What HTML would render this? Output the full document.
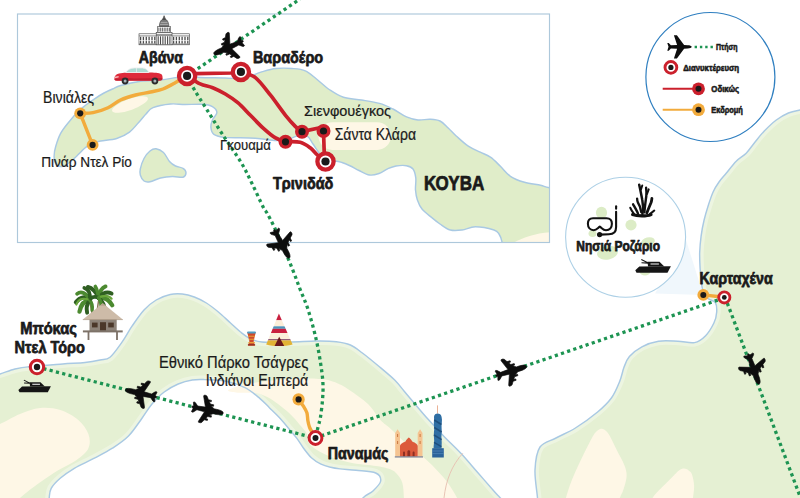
<!DOCTYPE html>
<html lang="el"><head><meta charset="utf-8"><title>Map</title>
<style>html,body{margin:0;padding:0;background:#fff}body{width:800px;height:498px;overflow:hidden}svg{display:block}text{font-family:"Liberation Sans",sans-serif}</style></head><body>
<svg width="800" height="498" viewBox="0 0 800 498">
<defs><clipPath id="inset"><rect x="17.5" y="14" width="532" height="228.5"/></clipPath><clipPath id="ros"><circle cx="625.6" cy="237.3" r="60"/></clipPath></defs>
<rect width="800" height="498" fill="#fff"/>
<clipPath id="cpP"><path d="M-10.0 376.0 C-8.3 353.3 -4.2 375.2 0.0 374.0 C4.2 372.8 10.0 370.2 15.0 369.0 C20.0 367.8 22.1 367.4 30.0 366.6 C38.0 365.8 53.5 364.7 62.7 364.0 C71.9 363.3 78.8 363.2 85.0 362.5 C91.2 361.8 95.8 360.9 100.0 360.0 C104.2 359.1 106.3 360.3 110.0 357.3 C113.7 354.3 118.3 347.4 122.0 342.2 C125.7 337.0 128.3 331.6 132.0 326.2 C135.7 320.8 140.0 314.4 144.0 310.0 C148.0 305.6 151.8 302.6 156.2 300.0 C160.6 297.4 165.8 295.5 170.2 294.5 C174.5 293.5 178.3 293.6 182.3 294.0 C186.3 294.4 190.3 295.5 194.3 297.0 C198.3 298.5 202.4 300.5 206.4 303.0 C210.4 305.5 214.4 308.7 218.4 312.0 C222.4 315.3 226.8 319.7 230.5 323.0 C234.2 326.3 237.2 329.4 240.5 332.0 C243.8 334.6 246.4 336.8 250.0 338.5 C253.6 340.2 255.3 341.4 262.0 342.0 C268.7 342.6 280.9 342.2 290.0 342.0 C299.1 341.8 308.6 341.1 316.3 341.0 C324.0 340.9 330.6 341.0 336.3 341.7 C342.0 342.4 346.0 343.1 350.4 345.0 C354.8 346.9 357.7 349.5 362.4 353.0 C367.1 356.5 373.1 361.5 378.5 366.0 C383.9 370.5 390.4 375.8 394.7 380.0 C398.9 384.2 400.8 387.2 404.0 391.0 C407.2 394.8 409.7 397.8 413.7 402.5 C417.7 407.2 422.8 413.4 427.9 419.1 C433.0 424.8 439.0 431.2 444.5 436.9 C450.0 442.6 455.6 447.6 461.1 453.5 C466.6 459.4 472.2 466.2 477.7 472.5 C483.2 478.8 490.5 487.2 494.3 491.5 C498.1 495.8 497.7 494.9 500.3 498.0 C502.9 501.1 533.4 508.0 510.0 510.0 C486.6 512.0 384.5 512.0 360.0 510.0 C335.5 508.0 360.8 501.2 363.0 498.0 C365.2 494.8 370.1 493.8 373.0 491.0 C375.9 488.2 380.2 484.0 380.7 481.0 C381.1 478.0 379.8 474.8 375.7 473.0 C371.6 471.2 361.9 471.0 356.0 470.3 C350.1 469.6 344.2 469.4 340.0 468.9 C335.8 468.4 333.9 468.1 330.7 467.3 C327.5 466.5 324.2 465.7 321.0 464.1 C317.8 462.5 314.3 460.4 311.4 457.7 C308.5 455.0 305.8 451.2 303.4 448.0 C301.0 444.8 299.3 441.6 296.9 438.4 C294.5 435.2 291.8 432.2 288.9 428.7 C286.0 425.2 282.5 421.0 279.3 417.5 C276.1 414.0 272.8 411.0 269.6 407.9 C266.4 404.8 264.1 402.0 260.0 398.6 C255.9 395.2 250.8 390.6 245.0 387.7 C239.2 384.8 231.8 382.4 225.0 381.0 C218.2 379.6 209.8 379.8 204.3 379.6 C198.9 379.4 196.7 379.3 192.3 380.0 C188.0 380.7 182.9 382.0 178.2 384.0 C173.5 386.0 168.6 388.7 164.2 392.0 C159.8 395.3 155.7 399.6 152.0 404.0 C148.3 408.4 145.9 412.9 142.0 418.2 C138.1 423.5 133.4 431.0 128.5 436.0 C123.6 441.0 118.1 444.5 112.4 448.2 C106.7 451.9 100.8 454.8 94.4 458.2 C88.1 461.6 80.0 464.9 74.3 468.3 C68.6 471.7 64.0 475.0 60.2 478.3 C56.4 481.6 53.0 485.1 51.2 488.4 C49.4 491.7 49.6 494.4 49.2 498.0 C48.8 501.6 58.9 508.0 49.0 510.0 C39.1 512.0 -0.2 532.3 -10.0 510.0 C-19.8 487.7 -11.7 398.7 -10.0 376.0Z"/></clipPath><clipPath id="cpC"><path d="M812.0 108.0 C810.0 41.3 803.9 109.2 800.0 110.0 C796.1 110.8 792.4 111.3 788.4 113.0 C784.4 114.7 780.3 117.0 776.3 120.0 C772.3 123.0 768.0 127.2 764.3 131.0 C760.6 134.8 757.3 139.3 754.3 143.0 C751.3 146.7 749.2 150.2 746.2 153.2 C743.2 156.2 739.5 157.8 736.2 161.2 C732.9 164.5 729.1 169.8 726.2 173.3 C723.3 176.8 721.2 178.9 719.0 182.0 C716.8 185.1 714.9 188.0 713.1 192.0 C711.3 196.0 709.6 201.3 708.1 206.0 C706.6 210.7 705.3 215.0 704.1 220.0 C702.9 225.0 701.8 230.8 701.1 236.2 C700.4 241.6 699.9 246.8 699.7 252.2 C699.5 257.6 699.9 263.7 700.1 268.3 C700.3 272.9 700.6 276.2 701.1 280.0 C701.6 283.8 701.9 287.9 703.0 291.0 C704.1 294.1 706.0 296.6 708.0 298.5 C710.0 300.4 713.8 300.2 715.3 302.5 C716.8 304.8 716.9 308.6 716.7 312.0 C716.5 315.4 715.8 319.1 713.9 323.0 C712.0 326.9 708.8 332.4 705.6 335.7 C702.4 339.0 699.1 341.7 694.5 342.6 C689.9 343.5 683.9 341.4 677.9 341.2 C671.9 341.0 664.5 340.3 658.5 341.2 C652.5 342.1 646.8 344.2 641.9 346.8 C637.0 349.4 632.4 353.0 629.4 356.5 C626.4 360.0 625.5 363.5 623.9 367.6 C622.3 371.8 621.8 376.3 619.7 381.4 C617.6 386.5 615.1 392.9 611.4 398.0 C607.7 403.1 603.6 407.0 597.6 412.0 C591.6 417.0 582.3 423.7 575.4 428.0 C568.5 432.3 561.9 434.8 556.0 438.0 C550.1 441.2 543.5 441.7 540.0 447.0 C536.5 452.3 535.4 461.5 535.0 470.0 C534.6 478.5 537.0 491.3 537.5 498.0 C538.0 504.7 492.2 508.0 538.0 510.0 C583.8 512.0 766.3 577.0 812.0 510.0 C857.7 443.0 814.0 174.7 812.0 108.0Z"/></clipPath>
<path d="M-10.0 376.0 C-8.3 353.3 -4.2 375.2 0.0 374.0 C4.2 372.8 10.0 370.2 15.0 369.0 C20.0 367.8 22.1 367.4 30.0 366.6 C38.0 365.8 53.5 364.7 62.7 364.0 C71.9 363.3 78.8 363.2 85.0 362.5 C91.2 361.8 95.8 360.9 100.0 360.0 C104.2 359.1 106.3 360.3 110.0 357.3 C113.7 354.3 118.3 347.4 122.0 342.2 C125.7 337.0 128.3 331.6 132.0 326.2 C135.7 320.8 140.0 314.4 144.0 310.0 C148.0 305.6 151.8 302.6 156.2 300.0 C160.6 297.4 165.8 295.5 170.2 294.5 C174.5 293.5 178.3 293.6 182.3 294.0 C186.3 294.4 190.3 295.5 194.3 297.0 C198.3 298.5 202.4 300.5 206.4 303.0 C210.4 305.5 214.4 308.7 218.4 312.0 C222.4 315.3 226.8 319.7 230.5 323.0 C234.2 326.3 237.2 329.4 240.5 332.0 C243.8 334.6 246.4 336.8 250.0 338.5 C253.6 340.2 255.3 341.4 262.0 342.0 C268.7 342.6 280.9 342.2 290.0 342.0 C299.1 341.8 308.6 341.1 316.3 341.0 C324.0 340.9 330.6 341.0 336.3 341.7 C342.0 342.4 346.0 343.1 350.4 345.0 C354.8 346.9 357.7 349.5 362.4 353.0 C367.1 356.5 373.1 361.5 378.5 366.0 C383.9 370.5 390.4 375.8 394.7 380.0 C398.9 384.2 400.8 387.2 404.0 391.0 C407.2 394.8 409.7 397.8 413.7 402.5 C417.7 407.2 422.8 413.4 427.9 419.1 C433.0 424.8 439.0 431.2 444.5 436.9 C450.0 442.6 455.6 447.6 461.1 453.5 C466.6 459.4 472.2 466.2 477.7 472.5 C483.2 478.8 490.5 487.2 494.3 491.5 C498.1 495.8 497.7 494.9 500.3 498.0 C502.9 501.1 533.4 508.0 510.0 510.0 C486.6 512.0 384.5 512.0 360.0 510.0 C335.5 508.0 360.8 501.2 363.0 498.0 C365.2 494.8 370.1 493.8 373.0 491.0 C375.9 488.2 380.2 484.0 380.7 481.0 C381.1 478.0 379.8 474.8 375.7 473.0 C371.6 471.2 361.9 471.0 356.0 470.3 C350.1 469.6 344.2 469.4 340.0 468.9 C335.8 468.4 333.9 468.1 330.7 467.3 C327.5 466.5 324.2 465.7 321.0 464.1 C317.8 462.5 314.3 460.4 311.4 457.7 C308.5 455.0 305.8 451.2 303.4 448.0 C301.0 444.8 299.3 441.6 296.9 438.4 C294.5 435.2 291.8 432.2 288.9 428.7 C286.0 425.2 282.5 421.0 279.3 417.5 C276.1 414.0 272.8 411.0 269.6 407.9 C266.4 404.8 264.1 402.0 260.0 398.6 C255.9 395.2 250.8 390.6 245.0 387.7 C239.2 384.8 231.8 382.4 225.0 381.0 C218.2 379.6 209.8 379.8 204.3 379.6 C198.9 379.4 196.7 379.3 192.3 380.0 C188.0 380.7 182.9 382.0 178.2 384.0 C173.5 386.0 168.6 388.7 164.2 392.0 C159.8 395.3 155.7 399.6 152.0 404.0 C148.3 408.4 145.9 412.9 142.0 418.2 C138.1 423.5 133.4 431.0 128.5 436.0 C123.6 441.0 118.1 444.5 112.4 448.2 C106.7 451.9 100.8 454.8 94.4 458.2 C88.1 461.6 80.0 464.9 74.3 468.3 C68.6 471.7 64.0 475.0 60.2 478.3 C56.4 481.6 53.0 485.1 51.2 488.4 C49.4 491.7 49.6 494.4 49.2 498.0 C48.8 501.6 58.9 508.0 49.0 510.0 C39.1 512.0 -0.2 532.3 -10.0 510.0 C-19.8 487.7 -11.7 398.7 -10.0 376.0Z" fill="#e5f0d3"/>
<path d="M812.0 108.0 C810.0 41.3 803.9 109.2 800.0 110.0 C796.1 110.8 792.4 111.3 788.4 113.0 C784.4 114.7 780.3 117.0 776.3 120.0 C772.3 123.0 768.0 127.2 764.3 131.0 C760.6 134.8 757.3 139.3 754.3 143.0 C751.3 146.7 749.2 150.2 746.2 153.2 C743.2 156.2 739.5 157.8 736.2 161.2 C732.9 164.5 729.1 169.8 726.2 173.3 C723.3 176.8 721.2 178.9 719.0 182.0 C716.8 185.1 714.9 188.0 713.1 192.0 C711.3 196.0 709.6 201.3 708.1 206.0 C706.6 210.7 705.3 215.0 704.1 220.0 C702.9 225.0 701.8 230.8 701.1 236.2 C700.4 241.6 699.9 246.8 699.7 252.2 C699.5 257.6 699.9 263.7 700.1 268.3 C700.3 272.9 700.6 276.2 701.1 280.0 C701.6 283.8 701.9 287.9 703.0 291.0 C704.1 294.1 706.0 296.6 708.0 298.5 C710.0 300.4 713.8 300.2 715.3 302.5 C716.8 304.8 716.9 308.6 716.7 312.0 C716.5 315.4 715.8 319.1 713.9 323.0 C712.0 326.9 708.8 332.4 705.6 335.7 C702.4 339.0 699.1 341.7 694.5 342.6 C689.9 343.5 683.9 341.4 677.9 341.2 C671.9 341.0 664.5 340.3 658.5 341.2 C652.5 342.1 646.8 344.2 641.9 346.8 C637.0 349.4 632.4 353.0 629.4 356.5 C626.4 360.0 625.5 363.5 623.9 367.6 C622.3 371.8 621.8 376.3 619.7 381.4 C617.6 386.5 615.1 392.9 611.4 398.0 C607.7 403.1 603.6 407.0 597.6 412.0 C591.6 417.0 582.3 423.7 575.4 428.0 C568.5 432.3 561.9 434.8 556.0 438.0 C550.1 441.2 543.5 441.7 540.0 447.0 C536.5 452.3 535.4 461.5 535.0 470.0 C534.6 478.5 537.0 491.3 537.5 498.0 C538.0 504.7 492.2 508.0 538.0 510.0 C583.8 512.0 766.3 577.0 812.0 510.0 C857.7 443.0 814.0 174.7 812.0 108.0Z" fill="#e5f0d3"/>
<path d="M-10.0 376.0 C-8.3 353.3 -4.2 375.2 0.0 374.0 C4.2 372.8 10.0 370.2 15.0 369.0 C20.0 367.8 22.1 367.4 30.0 366.6 C38.0 365.8 53.5 364.7 62.7 364.0 C71.9 363.3 78.8 363.2 85.0 362.5 C91.2 361.8 95.8 360.9 100.0 360.0 C104.2 359.1 106.3 360.3 110.0 357.3 C113.7 354.3 118.3 347.4 122.0 342.2 C125.7 337.0 128.3 331.6 132.0 326.2 C135.7 320.8 140.0 314.4 144.0 310.0 C148.0 305.6 151.8 302.6 156.2 300.0 C160.6 297.4 165.8 295.5 170.2 294.5 C174.5 293.5 178.3 293.6 182.3 294.0 C186.3 294.4 190.3 295.5 194.3 297.0 C198.3 298.5 202.4 300.5 206.4 303.0 C210.4 305.5 214.4 308.7 218.4 312.0 C222.4 315.3 226.8 319.7 230.5 323.0 C234.2 326.3 237.2 329.4 240.5 332.0 C243.8 334.6 246.4 336.8 250.0 338.5 C253.6 340.2 255.3 341.4 262.0 342.0 C268.7 342.6 280.9 342.2 290.0 342.0 C299.1 341.8 308.6 341.1 316.3 341.0 C324.0 340.9 330.6 341.0 336.3 341.7 C342.0 342.4 346.0 343.1 350.4 345.0 C354.8 346.9 357.7 349.5 362.4 353.0 C367.1 356.5 373.1 361.5 378.5 366.0 C383.9 370.5 390.4 375.8 394.7 380.0 C398.9 384.2 400.8 387.2 404.0 391.0 C407.2 394.8 409.7 397.8 413.7 402.5 C417.7 407.2 422.8 413.4 427.9 419.1 C433.0 424.8 439.0 431.2 444.5 436.9 C450.0 442.6 455.6 447.6 461.1 453.5 C466.6 459.4 472.2 466.2 477.7 472.5 C483.2 478.8 490.5 487.2 494.3 491.5 C498.1 495.8 497.7 494.9 500.3 498.0 C502.9 501.1 533.4 508.0 510.0 510.0 C486.6 512.0 384.5 512.0 360.0 510.0 C335.5 508.0 360.8 501.2 363.0 498.0 C365.2 494.8 370.1 493.8 373.0 491.0 C375.9 488.2 380.2 484.0 380.7 481.0 C381.1 478.0 379.8 474.8 375.7 473.0 C371.6 471.2 361.9 471.0 356.0 470.3 C350.1 469.6 344.2 469.4 340.0 468.9 C335.8 468.4 333.9 468.1 330.7 467.3 C327.5 466.5 324.2 465.7 321.0 464.1 C317.8 462.5 314.3 460.4 311.4 457.7 C308.5 455.0 305.8 451.2 303.4 448.0 C301.0 444.8 299.3 441.6 296.9 438.4 C294.5 435.2 291.8 432.2 288.9 428.7 C286.0 425.2 282.5 421.0 279.3 417.5 C276.1 414.0 272.8 411.0 269.6 407.9 C266.4 404.8 264.1 402.0 260.0 398.6 C255.9 395.2 250.8 390.6 245.0 387.7 C239.2 384.8 231.8 382.4 225.0 381.0 C218.2 379.6 209.8 379.8 204.3 379.6 C198.9 379.4 196.7 379.3 192.3 380.0 C188.0 380.7 182.9 382.0 178.2 384.0 C173.5 386.0 168.6 388.7 164.2 392.0 C159.8 395.3 155.7 399.6 152.0 404.0 C148.3 408.4 145.9 412.9 142.0 418.2 C138.1 423.5 133.4 431.0 128.5 436.0 C123.6 441.0 118.1 444.5 112.4 448.2 C106.7 451.9 100.8 454.8 94.4 458.2 C88.1 461.6 80.0 464.9 74.3 468.3 C68.6 471.7 64.0 475.0 60.2 478.3 C56.4 481.6 53.0 485.1 51.2 488.4 C49.4 491.7 49.6 494.4 49.2 498.0 C48.8 501.6 58.9 508.0 49.0 510.0 C39.1 512.0 -0.2 532.3 -10.0 510.0 C-19.8 487.7 -11.7 398.7 -10.0 376.0Z" fill="none" stroke="#fff" stroke-opacity="0.32" stroke-width="8" clip-path="url(#cpP)"/>
<path d="M812.0 108.0 C810.0 41.3 803.9 109.2 800.0 110.0 C796.1 110.8 792.4 111.3 788.4 113.0 C784.4 114.7 780.3 117.0 776.3 120.0 C772.3 123.0 768.0 127.2 764.3 131.0 C760.6 134.8 757.3 139.3 754.3 143.0 C751.3 146.7 749.2 150.2 746.2 153.2 C743.2 156.2 739.5 157.8 736.2 161.2 C732.9 164.5 729.1 169.8 726.2 173.3 C723.3 176.8 721.2 178.9 719.0 182.0 C716.8 185.1 714.9 188.0 713.1 192.0 C711.3 196.0 709.6 201.3 708.1 206.0 C706.6 210.7 705.3 215.0 704.1 220.0 C702.9 225.0 701.8 230.8 701.1 236.2 C700.4 241.6 699.9 246.8 699.7 252.2 C699.5 257.6 699.9 263.7 700.1 268.3 C700.3 272.9 700.6 276.2 701.1 280.0 C701.6 283.8 701.9 287.9 703.0 291.0 C704.1 294.1 706.0 296.6 708.0 298.5 C710.0 300.4 713.8 300.2 715.3 302.5 C716.8 304.8 716.9 308.6 716.7 312.0 C716.5 315.4 715.8 319.1 713.9 323.0 C712.0 326.9 708.8 332.4 705.6 335.7 C702.4 339.0 699.1 341.7 694.5 342.6 C689.9 343.5 683.9 341.4 677.9 341.2 C671.9 341.0 664.5 340.3 658.5 341.2 C652.5 342.1 646.8 344.2 641.9 346.8 C637.0 349.4 632.4 353.0 629.4 356.5 C626.4 360.0 625.5 363.5 623.9 367.6 C622.3 371.8 621.8 376.3 619.7 381.4 C617.6 386.5 615.1 392.9 611.4 398.0 C607.7 403.1 603.6 407.0 597.6 412.0 C591.6 417.0 582.3 423.7 575.4 428.0 C568.5 432.3 561.9 434.8 556.0 438.0 C550.1 441.2 543.5 441.7 540.0 447.0 C536.5 452.3 535.4 461.5 535.0 470.0 C534.6 478.5 537.0 491.3 537.5 498.0 C538.0 504.7 492.2 508.0 538.0 510.0 C583.8 512.0 766.3 577.0 812.0 510.0 C857.7 443.0 814.0 174.7 812.0 108.0Z" fill="none" stroke="#fff" stroke-opacity="0.32" stroke-width="8" clip-path="url(#cpC)"/>
<path d="M-10.0 426.0 C-8.3 411.7 -5.0 426.0 0.0 424.0 C5.0 422.0 13.3 416.7 20.0 414.0 C26.7 411.3 33.5 408.7 40.2 408.0 C46.9 407.3 53.9 408.0 60.2 410.0 C66.5 412.0 73.6 416.0 78.3 420.0 C83.0 424.0 86.7 429.3 88.4 434.0 C90.1 438.7 90.4 443.8 88.4 448.2 C86.4 452.6 81.3 456.5 76.3 460.2 C71.3 463.9 64.2 466.6 58.2 470.3 C52.2 474.0 46.6 477.7 40.2 482.3 C33.8 486.9 25.0 493.4 20.0 498.0 C15.0 502.6 15.0 508.0 10.0 510.0 C5.0 512.0 -6.7 524.0 -10.0 510.0 C-13.3 496.0 -11.7 440.3 -10.0 426.0Z" fill="#fef7e6"/>
<path d="M228.0 390.5 C228.3 389.4 234.7 387.3 238.0 386.2 C241.3 385.1 244.2 384.5 248.0 383.8 C251.8 383.1 256.5 382.4 261.0 381.8 C265.5 381.2 270.4 380.7 275.2 380.2 C280.0 379.7 285.5 379.3 290.0 379.0 C294.5 378.7 296.6 378.3 302.3 378.4 C308.0 378.4 318.0 378.4 324.0 379.3 C330.0 380.2 334.1 381.9 338.4 383.8 C342.7 385.7 345.1 387.1 350.0 390.5 C354.9 393.9 362.9 399.1 368.0 404.0 C373.1 408.9 376.5 415.8 380.4 420.0 C384.3 424.2 386.4 424.9 391.3 429.4 C396.2 433.9 404.2 442.0 410.0 447.0 C415.8 452.0 421.1 455.1 425.8 459.2 C430.5 463.3 434.7 467.8 438.3 471.7 C441.9 475.6 444.6 478.3 447.7 482.7 C450.8 487.1 454.7 493.4 457.1 498.0 C459.5 502.6 470.9 508.0 462.0 510.0 C453.1 512.0 413.7 512.0 404.0 510.0 C394.3 508.0 404.2 502.6 403.9 498.0 C403.6 493.4 403.6 486.9 402.3 482.7 C401.0 478.5 398.4 475.4 396.0 473.0 C393.6 470.6 391.3 469.8 388.0 468.6 C384.7 467.4 382.0 466.9 376.0 466.0 C370.0 465.1 359.3 464.4 352.0 463.0 C344.7 461.6 338.0 459.7 332.0 457.5 C326.0 455.3 320.1 452.1 316.2 449.6 C312.3 447.1 310.2 445.2 308.6 442.5 C307.0 439.8 307.7 436.2 306.6 433.6 C305.5 431.0 304.2 430.1 301.8 427.1 C299.4 424.2 295.6 419.4 292.1 415.9 C288.6 412.4 284.6 409.1 280.9 406.2 C277.1 403.2 273.4 400.3 269.6 398.2 C265.8 396.1 261.9 394.3 258.0 393.4 C254.1 392.5 249.7 392.9 246.0 392.8 C242.3 392.7 239.0 393.0 236.0 392.6 C233.0 392.2 227.7 391.6 228.0 390.5Z" fill="#fef7e6"/>
<path d="M563.0 510.0 C554.5 508.0 564.5 502.8 565.9 498.0 C567.3 493.2 569.1 487.2 571.5 481.0 C573.9 474.8 577.1 467.9 580.5 460.8 C583.9 453.7 589.0 443.3 591.8 438.3 C594.5 433.3 595.3 432.6 597.0 431.0 C598.7 429.4 600.4 428.8 601.9 428.8 C603.4 428.8 604.7 429.8 606.0 431.0 C607.3 432.2 608.0 432.9 609.8 436.0 C611.5 439.1 614.1 444.6 616.5 449.5 C618.9 454.4 622.7 460.8 624.4 465.3 C626.1 469.8 626.8 472.4 626.6 476.5 C626.4 480.6 624.4 486.4 623.3 490.0 C622.2 493.6 620.9 494.7 619.9 498.0 C618.9 501.3 626.5 508.0 617.0 510.0 C607.5 512.0 571.5 512.0 563.0 510.0Z" fill="#fef7e6"/>
<path d="M648.0 510.0 C641.4 508.0 650.2 501.7 652.5 498.0 C654.8 494.3 658.1 491.4 661.5 487.8 C664.9 484.2 669.9 479.4 672.8 476.5 C675.7 473.6 677.1 471.8 679.0 470.5 C680.9 469.2 682.4 468.6 684.0 468.6 C685.6 468.6 687.3 469.4 688.6 470.4 C689.9 471.3 691.0 471.8 691.9 474.3 C692.8 476.8 693.9 481.6 694.1 485.5 C694.3 489.4 693.4 493.9 693.0 498.0 C692.6 502.1 699.5 508.0 692.0 510.0 C684.5 512.0 654.6 512.0 648.0 510.0Z" fill="#fef7e6"/>
<path d="M-10.0 376.0 C-8.3 353.3 -4.2 375.2 0.0 374.0 C4.2 372.8 10.0 370.2 15.0 369.0 C20.0 367.8 22.1 367.4 30.0 366.6 C38.0 365.8 53.5 364.7 62.7 364.0 C71.9 363.3 78.8 363.2 85.0 362.5 C91.2 361.8 95.8 360.9 100.0 360.0 C104.2 359.1 106.3 360.3 110.0 357.3 C113.7 354.3 118.3 347.4 122.0 342.2 C125.7 337.0 128.3 331.6 132.0 326.2 C135.7 320.8 140.0 314.4 144.0 310.0 C148.0 305.6 151.8 302.6 156.2 300.0 C160.6 297.4 165.8 295.5 170.2 294.5 C174.5 293.5 178.3 293.6 182.3 294.0 C186.3 294.4 190.3 295.5 194.3 297.0 C198.3 298.5 202.4 300.5 206.4 303.0 C210.4 305.5 214.4 308.7 218.4 312.0 C222.4 315.3 226.8 319.7 230.5 323.0 C234.2 326.3 237.2 329.4 240.5 332.0 C243.8 334.6 246.4 336.8 250.0 338.5 C253.6 340.2 255.3 341.4 262.0 342.0 C268.7 342.6 280.9 342.2 290.0 342.0 C299.1 341.8 308.6 341.1 316.3 341.0 C324.0 340.9 330.6 341.0 336.3 341.7 C342.0 342.4 346.0 343.1 350.4 345.0 C354.8 346.9 357.7 349.5 362.4 353.0 C367.1 356.5 373.1 361.5 378.5 366.0 C383.9 370.5 390.4 375.8 394.7 380.0 C398.9 384.2 400.8 387.2 404.0 391.0 C407.2 394.8 409.7 397.8 413.7 402.5 C417.7 407.2 422.8 413.4 427.9 419.1 C433.0 424.8 439.0 431.2 444.5 436.9 C450.0 442.6 455.6 447.6 461.1 453.5 C466.6 459.4 472.2 466.2 477.7 472.5 C483.2 478.8 490.5 487.2 494.3 491.5 C498.1 495.8 497.7 494.9 500.3 498.0 C502.9 501.1 533.4 508.0 510.0 510.0 C486.6 512.0 384.5 512.0 360.0 510.0 C335.5 508.0 360.8 501.2 363.0 498.0 C365.2 494.8 370.1 493.8 373.0 491.0 C375.9 488.2 380.2 484.0 380.7 481.0 C381.1 478.0 379.8 474.8 375.7 473.0 C371.6 471.2 361.9 471.0 356.0 470.3 C350.1 469.6 344.2 469.4 340.0 468.9 C335.8 468.4 333.9 468.1 330.7 467.3 C327.5 466.5 324.2 465.7 321.0 464.1 C317.8 462.5 314.3 460.4 311.4 457.7 C308.5 455.0 305.8 451.2 303.4 448.0 C301.0 444.8 299.3 441.6 296.9 438.4 C294.5 435.2 291.8 432.2 288.9 428.7 C286.0 425.2 282.5 421.0 279.3 417.5 C276.1 414.0 272.8 411.0 269.6 407.9 C266.4 404.8 264.1 402.0 260.0 398.6 C255.9 395.2 250.8 390.6 245.0 387.7 C239.2 384.8 231.8 382.4 225.0 381.0 C218.2 379.6 209.8 379.8 204.3 379.6 C198.9 379.4 196.7 379.3 192.3 380.0 C188.0 380.7 182.9 382.0 178.2 384.0 C173.5 386.0 168.6 388.7 164.2 392.0 C159.8 395.3 155.7 399.6 152.0 404.0 C148.3 408.4 145.9 412.9 142.0 418.2 C138.1 423.5 133.4 431.0 128.5 436.0 C123.6 441.0 118.1 444.5 112.4 448.2 C106.7 451.9 100.8 454.8 94.4 458.2 C88.1 461.6 80.0 464.9 74.3 468.3 C68.6 471.7 64.0 475.0 60.2 478.3 C56.4 481.6 53.0 485.1 51.2 488.4 C49.4 491.7 49.6 494.4 49.2 498.0 C48.8 501.6 58.9 508.0 49.0 510.0 C39.1 512.0 -0.2 532.3 -10.0 510.0 C-19.8 487.7 -11.7 398.7 -10.0 376.0Z" fill="none" stroke="#a9c9e3" stroke-width="1.45"/>
<path d="M812.0 108.0 C810.0 41.3 803.9 109.2 800.0 110.0 C796.1 110.8 792.4 111.3 788.4 113.0 C784.4 114.7 780.3 117.0 776.3 120.0 C772.3 123.0 768.0 127.2 764.3 131.0 C760.6 134.8 757.3 139.3 754.3 143.0 C751.3 146.7 749.2 150.2 746.2 153.2 C743.2 156.2 739.5 157.8 736.2 161.2 C732.9 164.5 729.1 169.8 726.2 173.3 C723.3 176.8 721.2 178.9 719.0 182.0 C716.8 185.1 714.9 188.0 713.1 192.0 C711.3 196.0 709.6 201.3 708.1 206.0 C706.6 210.7 705.3 215.0 704.1 220.0 C702.9 225.0 701.8 230.8 701.1 236.2 C700.4 241.6 699.9 246.8 699.7 252.2 C699.5 257.6 699.9 263.7 700.1 268.3 C700.3 272.9 700.6 276.2 701.1 280.0 C701.6 283.8 701.9 287.9 703.0 291.0 C704.1 294.1 706.0 296.6 708.0 298.5 C710.0 300.4 713.8 300.2 715.3 302.5 C716.8 304.8 716.9 308.6 716.7 312.0 C716.5 315.4 715.8 319.1 713.9 323.0 C712.0 326.9 708.8 332.4 705.6 335.7 C702.4 339.0 699.1 341.7 694.5 342.6 C689.9 343.5 683.9 341.4 677.9 341.2 C671.9 341.0 664.5 340.3 658.5 341.2 C652.5 342.1 646.8 344.2 641.9 346.8 C637.0 349.4 632.4 353.0 629.4 356.5 C626.4 360.0 625.5 363.5 623.9 367.6 C622.3 371.8 621.8 376.3 619.7 381.4 C617.6 386.5 615.1 392.9 611.4 398.0 C607.7 403.1 603.6 407.0 597.6 412.0 C591.6 417.0 582.3 423.7 575.4 428.0 C568.5 432.3 561.9 434.8 556.0 438.0 C550.1 441.2 543.5 441.7 540.0 447.0 C536.5 452.3 535.4 461.5 535.0 470.0 C534.6 478.5 537.0 491.3 537.5 498.0 C538.0 504.7 492.2 508.0 538.0 510.0 C583.8 512.0 766.3 577.0 812.0 510.0 C857.7 443.0 814.0 174.7 812.0 108.0Z" fill="none" stroke="#a9c9e3" stroke-width="1.45"/>
<path d="M462.8 453.3 C452 465 446 480 444 498" fill="none" stroke="#e8c4b4" stroke-width="1"/>
<rect x="17.5" y="14" width="532" height="228.5" fill="#fff"/>
<g clip-path="url(#inset)">
<path d="M54.1 156.2 C54.1 153.3 54.6 150.2 55.7 146.5 C56.8 142.8 58.4 137.7 60.5 133.7 C62.6 129.7 65.5 126.2 68.5 122.5 C71.5 118.8 75.2 114.2 78.2 111.2 C81.2 108.2 83.5 106.9 86.2 104.8 C88.9 102.7 91.6 100.8 94.6 98.8 C97.6 96.8 101.0 94.6 104.0 93.0 C107.0 91.4 109.7 90.2 112.5 89.0 C115.3 87.8 116.1 86.8 120.8 85.5 C125.5 84.2 133.9 82.2 140.5 81.3 C147.1 80.4 154.7 80.6 160.6 80.0 C166.5 79.4 171.3 78.3 175.7 77.6 C180.1 76.9 182.9 76.0 187.0 76.0 C191.1 76.0 193.7 77.2 200.0 77.5 C206.3 77.8 217.8 77.8 225.0 78.0 C232.2 78.2 238.6 79.0 243.0 78.6 C247.4 78.2 248.1 77.0 251.3 75.8 C254.6 74.6 258.4 72.8 262.5 71.6 C266.6 70.4 271.1 69.0 276.0 68.5 C280.9 68.0 286.9 68.1 291.8 68.5 C296.7 68.9 301.2 69.0 305.3 70.8 C309.4 72.5 312.4 75.8 316.5 79.0 C320.6 82.2 325.5 87.0 330.0 90.0 C334.5 93.0 338.2 95.5 343.5 97.2 C348.8 98.9 355.5 99.0 361.5 100.0 C367.5 101.0 374.2 101.9 379.5 103.4 C384.8 104.9 388.5 106.8 393.0 109.0 C397.5 111.2 402.3 115.1 406.5 116.9 C410.7 118.7 414.1 119.6 418.0 120.0 C421.9 120.4 426.3 119.0 430.0 119.2 C433.7 119.4 437.0 119.5 440.0 121.0 C443.0 122.5 445.5 125.5 448.2 128.0 C450.9 130.5 452.8 133.0 456.2 136.0 C459.6 139.0 464.3 143.5 468.3 146.2 C472.3 148.9 476.6 150.4 480.3 152.2 C484.0 154.0 487.0 154.8 490.4 157.2 C493.8 159.5 497.1 163.1 500.4 166.3 C503.7 169.5 506.4 173.6 510.4 176.3 C514.4 179.0 519.5 180.8 524.5 182.3 C529.5 183.8 536.5 184.4 540.6 185.3 C544.8 186.2 543.7 186.7 549.4 187.8 C555.1 188.9 569.9 180.0 575.0 192.0 C580.1 204.0 592.0 249.3 580.0 260.0 C568.0 270.7 516.0 259.0 503.0 256.0 C490.0 253.0 502.7 245.5 502.0 241.8 C501.3 238.1 500.3 236.0 499.0 234.0 C497.7 232.0 497.9 231.2 494.0 230.0 C490.1 228.8 480.7 226.8 475.4 226.8 C470.1 226.8 466.2 229.5 462.0 230.0 C457.8 230.5 454.0 231.0 450.3 230.0 C446.6 229.0 443.1 226.1 440.0 224.0 C436.9 221.9 434.5 219.9 431.5 217.4 C428.5 214.9 424.4 211.9 422.0 209.0 C419.6 206.1 418.5 203.2 417.4 200.0 C416.3 196.8 415.8 193.6 415.5 190.0 C415.2 186.4 416.2 181.7 415.8 178.2 C415.4 174.7 414.6 171.1 413.0 169.0 C411.4 166.9 409.2 166.2 406.4 165.7 C403.6 165.2 399.1 165.5 396.0 166.0 C392.9 166.5 390.4 167.6 387.6 168.8 C384.8 170.1 382.0 172.5 379.0 173.5 C376.0 174.5 372.8 175.5 369.5 175.0 C366.2 174.5 362.2 172.0 359.0 170.5 C355.8 169.0 353.2 167.3 350.4 166.0 C347.6 164.7 344.5 163.3 342.0 162.5 C339.5 161.7 338.0 161.2 335.3 161.0 C332.6 160.8 328.7 162.4 326.0 161.0 C323.3 159.6 321.2 155.6 319.0 152.8 C316.8 150.0 314.9 146.7 313.0 144.0 C311.1 141.3 309.9 138.0 307.7 136.5 C305.5 135.0 302.9 134.7 300.0 135.0 C297.1 135.3 293.9 137.6 290.0 138.5 C286.1 139.4 282.2 140.6 276.4 140.5 C270.6 140.4 263.9 138.7 255.3 138.2 C246.7 137.7 231.9 138.0 225.0 137.4 C218.1 136.8 216.2 136.0 213.9 134.4 C211.6 132.8 211.2 130.1 210.9 127.7 C210.7 125.3 211.4 122.5 212.4 120.0 C213.4 117.5 216.9 114.8 216.9 112.6 C216.9 110.4 214.8 108.0 212.4 106.6 C210.0 105.2 207.2 104.6 202.6 104.3 C198.0 104.0 190.3 104.5 185.0 104.5 C179.7 104.5 175.9 103.5 170.6 104.0 C165.3 104.5 157.1 106.0 153.0 107.7 C148.9 109.4 148.2 111.8 146.0 114.0 C143.8 116.2 142.8 117.9 140.0 120.9 C137.2 123.9 133.4 129.2 129.5 132.1 C125.6 135.0 121.5 137.0 116.7 138.5 C111.9 140.0 104.7 140.2 100.6 141.0 C96.5 141.8 94.7 142.3 92.0 143.5 C89.3 144.7 86.9 146.3 84.6 148.2 C82.3 150.0 80.6 152.3 78.2 154.6 C75.8 156.9 72.7 160.0 70.0 162.0 C67.3 164.0 64.3 166.2 62.0 166.5 C59.7 166.8 57.3 165.7 56.0 164.0 C54.7 162.3 54.1 159.1 54.1 156.2Z" fill="#e0edc9" stroke="#a9c9e3" stroke-width="1.45"/>
<path d="M156.0 148.8 C158.2 149.1 161.2 150.4 163.5 152.5 C165.8 154.6 167.5 159.2 169.5 161.5 C171.5 163.8 173.2 164.9 175.5 166.0 C177.8 167.1 181.2 167.2 183.0 168.3 C184.8 169.4 186.0 171.3 186.0 172.8 C186.0 174.3 185.2 176.6 183.0 177.2 C180.8 177.8 176.2 176.4 172.5 176.5 C168.8 176.6 164.2 177.1 160.5 178.0 C156.8 178.9 152.8 181.2 150.0 181.7 C147.2 182.2 145.6 182.1 144.0 181.0 C142.4 179.9 140.9 177.0 140.3 175.0 C139.7 173.0 139.7 171.8 140.3 169.0 C140.9 166.2 142.4 161.5 144.0 158.5 C145.6 155.5 148.0 152.6 150.0 151.0 C152.0 149.4 153.8 148.6 156.0 148.8Z" fill="#e0edc9" stroke="#a9c9e3" stroke-width="1.45"/>
<rect x="318.5" y="122.3" width="72.5" height="27.6" rx="13.8" fill="#fef7e6"/>
<ellipse cx="130" cy="104.5" rx="19" ry="5.5" fill="#fef7e6" transform="rotate(-20 130 104.5)"/>
<path d="M510 245 C520 238 535 233 552 232 L552 245Z" fill="#fef7e6"/>
</g>
<rect x="17.5" y="14" width="532" height="228.5" fill="none" stroke="#adc8db" stroke-width="1.15"/>
<path d="M686 240 L703.3 295 L655 293.5 Z" fill="#f0f7fc"/>
<circle cx="625.6" cy="237.3" r="60" fill="#fff" stroke="#add0e6" stroke-width="1.1"/>
<g clip-path="url(#ros)" fill="#dcecc6"><ellipse cx="601.5" cy="212.8" rx="5.6" ry="6"/><ellipse cx="631" cy="225" rx="5.6" ry="5.4"/><ellipse cx="592.5" cy="233.6" rx="4" ry="3.4"/><ellipse cx="607.5" cy="252.8" rx="10.6" ry="6.8" transform="rotate(-12 607.5 252.8)"/><ellipse cx="648" cy="241.8" rx="7" ry="4.4" transform="rotate(-15 648 241.8)"/><ellipse cx="645" cy="272.4" rx="5" ry="3"/></g>
<circle cx="710.4" cy="77" r="64.5" fill="#fff" stroke="#2f7fc0" stroke-width="1.2"/>
<path d="M187 76 L300 -1" fill="none" stroke="#1d9452" stroke-width="3.3" stroke-dasharray="3.2 3.3"/>
<path d="M187.0 76.0 C188.2 78.3 191.2 84.4 194.5 90.0 C197.8 95.6 202.2 102.3 206.8 109.6 C211.4 116.9 216.3 124.9 222.0 133.7 C227.7 142.5 236.0 154.0 241.0 162.3 C246.0 170.6 248.3 176.1 252.0 183.5 C255.7 190.9 260.5 201.8 263.0 206.7 C265.5 211.6 265.2 209.8 267.0 213.0 C268.8 216.2 271.1 220.4 273.6 225.6 C276.1 230.8 278.9 236.9 282.0 244.0 C285.1 251.1 289.0 260.5 292.0 268.0 C295.0 275.5 297.3 282.0 300.0 289.0 C302.7 296.0 305.5 301.5 308.2 310.0 C310.9 318.5 314.1 330.3 316.3 340.0 C318.5 349.7 320.2 360.5 321.3 368.0 C322.4 375.5 322.8 379.7 323.0 385.0 C323.2 390.3 322.9 394.7 322.5 400.0 C322.1 405.3 321.2 412.5 320.5 417.0 C319.8 421.5 318.8 423.5 318.0 427.0 C317.2 430.5 315.9 436.2 315.5 438.0" fill="none" stroke="#1d9452" stroke-width="3.3" stroke-dasharray="3.2 3.3"/>
<path d="M37 367 L315 438" fill="none" stroke="#1d9452" stroke-width="3.3" stroke-dasharray="3.2 3.3"/>
<path d="M315 438 L718 300" fill="none" stroke="#1d9452" stroke-width="3.3" stroke-dasharray="3.2 3.3"/>
<path d="M725 297 L801 499" fill="none" stroke="#1d9452" stroke-width="3.3" stroke-dasharray="3.2 3.3"/>
<path d="M190 74.2 L196 73.6 L232 73 L241 72" fill="none" stroke="#cb202c" stroke-width="3.7" stroke-linecap="round" stroke-linejoin="round"/>
<path d="M241.0 72.0 C243.4 72.9 250.5 73.7 255.4 77.6 C260.3 81.5 265.5 88.9 270.5 95.2 C275.5 101.5 281.3 110.1 285.5 115.3 C289.7 120.5 292.8 123.9 295.5 126.6 C298.2 129.3 300.9 130.8 302.0 131.6" fill="none" stroke="#cb202c" stroke-width="3.7" stroke-linecap="round" stroke-linejoin="round"/>
<path d="M302 131.6 L321 127.5 L323.5 131 L324.5 161" fill="none" stroke="#cb202c" stroke-width="3.7" stroke-linecap="round" stroke-linejoin="round"/>
<path d="M285.3 141.7 C287.8 141.8 296.1 141.2 300.2 142.2 C304.3 143.2 307.3 145.6 310.2 147.8 C313.1 150.0 315.2 153.1 317.8 155.3 C320.4 157.6 324.2 160.3 325.5 161.3" fill="none" stroke="#cb202c" stroke-width="3.7" stroke-linecap="round" stroke-linejoin="round"/>
<path d="M187.0 76.0 C189.2 77.3 195.9 82.0 200.2 83.9 C204.5 85.9 208.5 86.0 212.7 87.7 C216.9 89.4 221.1 91.5 225.3 94.0 C229.5 96.5 233.6 99.2 237.8 102.7 C242.0 106.2 246.2 111.1 250.4 115.3 C254.6 119.5 258.7 124.0 262.9 127.8 C267.1 131.6 271.8 135.6 275.5 137.9 C279.2 140.2 283.7 141.1 285.3 141.7" fill="none" stroke="#cb202c" stroke-width="3.7" stroke-linecap="round" stroke-linejoin="round"/>
<path d="M185.7 76.3 C184.0 77.3 179.4 80.5 175.6 82.6 C171.8 84.7 167.2 87.4 163.0 89.0 C158.8 90.6 155.1 91.0 150.5 92.0 C145.9 93.0 140.5 93.7 135.5 95.0 C130.5 96.3 125.1 97.9 120.5 100.0 C115.9 102.1 112.6 105.6 108.0 107.7 C103.4 109.8 97.6 111.8 93.0 112.7 C88.4 113.6 82.3 113.2 80.2 113.3 L92.6 144.9" fill="none" stroke="#f2ab3c" stroke-width="3.4" stroke-linecap="round" stroke-linejoin="round"/>
<path d="M298.3 399.5 C299.1 400.6 302.0 404.0 303.4 406.2 C304.8 408.4 306.1 410.3 306.9 412.7 C307.6 415.1 307.5 418.3 307.9 420.7 C308.3 423.1 308.8 425.1 309.5 427.1 C310.2 429.1 311.3 430.7 312.3 432.5 C313.3 434.3 314.9 437.1 315.4 438.0" fill="none" stroke="#f2ab3c" stroke-width="3.4" stroke-linecap="round" stroke-linejoin="round"/>
<path d="M703.3 294.9 L724 297.3" fill="none" stroke="#f2ab3c" stroke-width="3.4" stroke-linecap="round" stroke-linejoin="round"/>
<circle cx="80.2" cy="113.3" r="5.9" fill="#f2ab3c"/><circle cx="80.2" cy="113.3" r="3.1" fill="#1a1a1a"/>
<circle cx="92.6" cy="144.9" r="5.9" fill="#f2ab3c"/><circle cx="92.6" cy="144.9" r="3.1" fill="#1a1a1a"/>
<circle cx="302.0" cy="131.7" r="7.0" fill="#cb202c"/><circle cx="302.0" cy="131.7" r="3.6" fill="#1a1a1a"/>
<circle cx="323.5" cy="131.0" r="7.0" fill="#cb202c"/><circle cx="323.5" cy="131.0" r="3.6" fill="#1a1a1a"/>
<circle cx="285.5" cy="141.8" r="7.0" fill="#cb202c"/><circle cx="285.5" cy="141.8" r="3.6" fill="#1a1a1a"/>
<circle cx="187.1" cy="75.9" r="8.1" fill="#fff" stroke="#cb202c" stroke-width="4.3"/><circle cx="187.1" cy="75.9" r="4.1" fill="#1a1a1a"/>
<circle cx="240.9" cy="71.9" r="8.1" fill="#fff" stroke="#cb202c" stroke-width="4.3"/><circle cx="240.9" cy="71.9" r="4.1" fill="#1a1a1a"/>
<circle cx="325.5" cy="161.5" r="8.1" fill="#fff" stroke="#cb202c" stroke-width="4.3"/><circle cx="325.5" cy="161.5" r="4.1" fill="#1a1a1a"/>
<circle cx="298.6" cy="399.4" r="6.1" fill="#f2ab3c"/><circle cx="298.6" cy="399.4" r="3.1" fill="#1a1a1a"/>
<circle cx="37.0" cy="367.0" r="6.7" fill="#fff" stroke="#cb202c" stroke-width="3.1"/><circle cx="37.0" cy="367.0" r="3.2" fill="#1a1a1a"/>
<circle cx="315.5" cy="438.0" r="6.4" fill="#fff" stroke="#cb202c" stroke-width="3.0"/><circle cx="315.5" cy="438.0" r="3.0" fill="#1a1a1a"/>
<circle cx="703.3" cy="294.9" r="5.9" fill="#f2ab3c"/><circle cx="703.3" cy="294.9" r="3.0" fill="#1a1a1a"/>
<circle cx="724.3" cy="297.4" r="5.6" fill="#fff" stroke="#cb202c" stroke-width="2.8"/><circle cx="724.3" cy="297.4" r="2.4" fill="#1a1a1a"/>
<path d="M16.0 0.0 L15.6 -1.2 L13.5 -2.1 L10.5 -2.5 L6.2 -2.5 L2.9 -4.6 L5.1 -4.8 L5.1 -6.3 L1.6 -6.4 L0.0 -8.6 L2.0 -8.8 L2.0 -10.2 L-1.2 -10.3 L-3.2 -13.4 L-4.6 -14.0 L-6.4 -13.8 L-6.6 -12.8 L-2.6 -2.4 L-10.4 -1.9 L-13.4 -4.8 L-14.6 -5.2 L-15.4 -4.8 L-14.4 -1.2 L-16.0 -0.6 L-16.0 0.0 L-16.0 0.6 L-14.4 1.2 L-15.4 4.8 L-14.6 5.2 L-13.4 4.8 L-10.4 1.9 L-2.6 2.4 L-6.6 12.8 L-6.4 13.8 L-4.6 14.0 L-3.2 13.4 L-1.2 10.3 L2.0 10.2 L2.0 8.8 L0.0 8.6 L1.6 6.4 L5.1 6.3 L5.1 4.8 L2.9 4.6 L6.2 2.5 L10.5 2.5 L13.5 2.1 L15.6 1.2 L16.0 0.0Z" fill="#0d0d0d" stroke="#0d0d0d" stroke-width="0.6" stroke-linejoin="round" transform="translate(228.5 47.5) rotate(155.9) scale(1.00)"/>
<path d="M16.0 0.0 L15.6 -1.2 L13.5 -2.1 L10.5 -2.5 L6.2 -2.5 L2.9 -4.6 L5.1 -4.8 L5.1 -6.3 L1.6 -6.4 L0.0 -8.6 L2.0 -8.8 L2.0 -10.2 L-1.2 -10.3 L-3.2 -13.4 L-4.6 -14.0 L-6.4 -13.8 L-6.6 -12.8 L-2.6 -2.4 L-10.4 -1.9 L-13.4 -4.8 L-14.6 -5.2 L-15.4 -4.8 L-14.4 -1.2 L-16.0 -0.6 L-16.0 0.0 L-16.0 0.6 L-14.4 1.2 L-15.4 4.8 L-14.6 5.2 L-13.4 4.8 L-10.4 1.9 L-2.6 2.4 L-6.6 12.8 L-6.4 13.8 L-4.6 14.0 L-3.2 13.4 L-1.2 10.3 L2.0 10.2 L2.0 8.8 L0.0 8.6 L1.6 6.4 L5.1 6.3 L5.1 4.8 L2.9 4.6 L6.2 2.5 L10.5 2.5 L13.5 2.1 L15.6 1.2 L16.0 0.0Z" fill="#0d0d0d" stroke="#0d0d0d" stroke-width="0.6" stroke-linejoin="round" transform="translate(281.7 243.9) rotate(62.0) scale(1.00)"/>
<path d="M16.0 0.0 L15.6 -1.2 L13.5 -2.1 L10.5 -2.5 L6.2 -2.5 L2.9 -4.6 L5.1 -4.8 L5.1 -6.3 L1.6 -6.4 L0.0 -8.6 L2.0 -8.8 L2.0 -10.2 L-1.2 -10.3 L-3.2 -13.4 L-4.6 -14.0 L-6.4 -13.8 L-6.6 -12.8 L-2.6 -2.4 L-10.4 -1.9 L-13.4 -4.8 L-14.6 -5.2 L-15.4 -4.8 L-14.4 -1.2 L-16.0 -0.6 L-16.0 0.0 L-16.0 0.6 L-14.4 1.2 L-15.4 4.8 L-14.6 5.2 L-13.4 4.8 L-10.4 1.9 L-2.6 2.4 L-6.6 12.8 L-6.4 13.8 L-4.6 14.0 L-3.2 13.4 L-1.2 10.3 L2.0 10.2 L2.0 8.8 L0.0 8.6 L1.6 6.4 L5.1 6.3 L5.1 4.8 L2.9 4.6 L6.2 2.5 L10.5 2.5 L13.5 2.1 L15.6 1.2 L16.0 0.0Z" fill="#0d0d0d" stroke="#0d0d0d" stroke-width="0.6" stroke-linejoin="round" transform="translate(141.0 393.5) rotate(193.1) scale(1.00)"/>
<path d="M16.0 0.0 L15.6 -1.2 L13.5 -2.1 L10.5 -2.5 L6.2 -2.5 L2.9 -4.6 L5.1 -4.8 L5.1 -6.3 L1.6 -6.4 L0.0 -8.6 L2.0 -8.8 L2.0 -10.2 L-1.2 -10.3 L-3.2 -13.4 L-4.6 -14.0 L-6.4 -13.8 L-6.6 -12.8 L-2.6 -2.4 L-10.4 -1.9 L-13.4 -4.8 L-14.6 -5.2 L-15.4 -4.8 L-14.4 -1.2 L-16.0 -0.6 L-16.0 0.0 L-16.0 0.6 L-14.4 1.2 L-15.4 4.8 L-14.6 5.2 L-13.4 4.8 L-10.4 1.9 L-2.6 2.4 L-6.6 12.8 L-6.4 13.8 L-4.6 14.0 L-3.2 13.4 L-1.2 10.3 L2.0 10.2 L2.0 8.8 L0.0 8.6 L1.6 6.4 L5.1 6.3 L5.1 4.8 L2.9 4.6 L6.2 2.5 L10.5 2.5 L13.5 2.1 L15.6 1.2 L16.0 0.0Z" fill="#0d0d0d" stroke="#0d0d0d" stroke-width="0.6" stroke-linejoin="round" transform="translate(207.5 410.0) rotate(11.7) scale(1.00)"/>
<path d="M16.0 0.0 L15.6 -1.2 L13.5 -2.1 L10.5 -2.5 L6.2 -2.5 L2.9 -4.6 L5.1 -4.8 L5.1 -6.3 L1.6 -6.4 L0.0 -8.6 L2.0 -8.8 L2.0 -10.2 L-1.2 -10.3 L-3.2 -13.4 L-4.6 -14.0 L-6.4 -13.8 L-6.6 -12.8 L-2.6 -2.4 L-10.4 -1.9 L-13.4 -4.8 L-14.6 -5.2 L-15.4 -4.8 L-14.4 -1.2 L-16.0 -0.6 L-16.0 0.0 L-16.0 0.6 L-14.4 1.2 L-15.4 4.8 L-14.6 5.2 L-13.4 4.8 L-10.4 1.9 L-2.6 2.4 L-6.6 12.8 L-6.4 13.8 L-4.6 14.0 L-3.2 13.4 L-1.2 10.3 L2.0 10.2 L2.0 8.8 L0.0 8.6 L1.6 6.4 L5.1 6.3 L5.1 4.8 L2.9 4.6 L6.2 2.5 L10.5 2.5 L13.5 2.1 L15.6 1.2 L16.0 0.0Z" fill="#0d0d0d" stroke="#0d0d0d" stroke-width="0.6" stroke-linejoin="round" transform="translate(511.2 371.1) rotate(-17.2) scale(1.00)"/>
<path d="M16.0 0.0 L15.6 -1.2 L13.5 -2.1 L10.5 -2.5 L6.2 -2.5 L2.9 -4.6 L5.1 -4.8 L5.1 -6.3 L1.6 -6.4 L0.0 -8.6 L2.0 -8.8 L2.0 -10.2 L-1.2 -10.3 L-3.2 -13.4 L-4.6 -14.0 L-6.4 -13.8 L-6.6 -12.8 L-2.6 -2.4 L-10.4 -1.9 L-13.4 -4.8 L-14.6 -5.2 L-15.4 -4.8 L-14.4 -1.2 L-16.0 -0.6 L-16.0 0.0 L-16.0 0.6 L-14.4 1.2 L-15.4 4.8 L-14.6 5.2 L-13.4 4.8 L-10.4 1.9 L-2.6 2.4 L-6.6 12.8 L-6.4 13.8 L-4.6 14.0 L-3.2 13.4 L-1.2 10.3 L2.0 10.2 L2.0 8.8 L0.0 8.6 L1.6 6.4 L5.1 6.3 L5.1 4.8 L2.9 4.6 L6.2 2.5 L10.5 2.5 L13.5 2.1 L15.6 1.2 L16.0 0.0Z" fill="#0d0d0d" stroke="#0d0d0d" stroke-width="0.6" stroke-linejoin="round" transform="translate(753.6 369.0) rotate(70.3) scale(1.00)"/>
<text x="138.8" y="62.5" font-size="17.3" font-weight="700" stroke="#1a1a1a" stroke-width="0.75" stroke-linejoin="round" textLength="44.2" lengthAdjust="spacingAndGlyphs" fill="#1a1a1a">Αβάνα</text>
<text x="252.9" y="63.4" font-size="17.4" font-weight="700" stroke="#1a1a1a" stroke-width="0.75" stroke-linejoin="round" textLength="70.3" lengthAdjust="spacingAndGlyphs" fill="#1a1a1a">Βαραδέρο</text>
<text x="273.0" y="189.2" font-size="16.5" font-weight="700" stroke="#1a1a1a" stroke-width="0.75" stroke-linejoin="round" textLength="60.4" lengthAdjust="spacingAndGlyphs" fill="#1a1a1a">Τρινιδάδ</text>
<text x="424.1" y="189.5" font-size="20.5" font-weight="700" stroke="#1a1a1a" stroke-width="0.75" stroke-linejoin="round" textLength="60.1" lengthAdjust="spacingAndGlyphs" fill="#1a1a1a">ΚΟΥΒΑ</text>
<text x="43.1" y="102.6" font-size="15.7" stroke="#1a1a1a" stroke-width="0.22" stroke-linejoin="round" textLength="50.9" lengthAdjust="spacingAndGlyphs" fill="#1a1a1a">Βινιάλες</text>
<text x="41.2" y="166.6" font-size="15.4" stroke="#1a1a1a" stroke-width="0.22" stroke-linejoin="round" textLength="90.7" lengthAdjust="spacingAndGlyphs" fill="#1a1a1a">Πινάρ Ντελ Ρίο</text>
<text x="304.0" y="116.3" font-size="15.4" stroke="#1a1a1a" stroke-width="0.22" stroke-linejoin="round" textLength="87.1" lengthAdjust="spacingAndGlyphs" fill="#1a1a1a">Σιενφουέγκος</text>
<text x="334.7" y="139.9" font-size="15.8" stroke="#1a1a1a" stroke-width="0.22" stroke-linejoin="round" textLength="81.3" lengthAdjust="spacingAndGlyphs" fill="#1a1a1a">Σάντα Κλάρα</text>
<text x="220.0" y="149.9" font-size="15.3" stroke="#1a1a1a" stroke-width="0.22" stroke-linejoin="round" textLength="50.9" lengthAdjust="spacingAndGlyphs" fill="#1a1a1a">Γκουαμά</text>
<text x="20.2" y="334.1" font-size="16.5" font-weight="700" stroke="#1a1a1a" stroke-width="0.75" stroke-linejoin="round" textLength="56.8" lengthAdjust="spacingAndGlyphs" fill="#1a1a1a">Μπόκας</text>
<text x="14.6" y="353.2" font-size="17.0" font-weight="700" stroke="#1a1a1a" stroke-width="0.75" stroke-linejoin="round" textLength="70.3" lengthAdjust="spacingAndGlyphs" fill="#1a1a1a">Ντελ Τόρο</text>
<text x="158.9" y="368.0" font-size="17.3" stroke="#1a1a1a" stroke-width="0.22" stroke-linejoin="round" textLength="149.4" lengthAdjust="spacingAndGlyphs" fill="#1a1a1a">Εθνικό Πάρκο Τσάγρες</text>
<text x="205.7" y="386.4" font-size="17.3" stroke="#1a1a1a" stroke-width="0.22" stroke-linejoin="round" textLength="102.6" lengthAdjust="spacingAndGlyphs" fill="#1a1a1a">Ινδιάνοι Εμπερά</text>
<text x="327.8" y="459.0" font-size="17.1" font-weight="700" stroke="#1a1a1a" stroke-width="0.75" stroke-linejoin="round" textLength="60.7" lengthAdjust="spacingAndGlyphs" fill="#1a1a1a">Παναμάς</text>
<text x="699.6" y="283.9" font-size="16.9" font-weight="700" stroke="#1a1a1a" stroke-width="0.75" stroke-linejoin="round" textLength="73.1" lengthAdjust="spacingAndGlyphs" fill="#1a1a1a">Καρταχένα</text>
<text x="576.3" y="251.4" font-size="14.6" font-weight="700" stroke="#1a1a1a" stroke-width="0.75" stroke-linejoin="round" textLength="83.7" lengthAdjust="spacingAndGlyphs" fill="#1a1a1a">Νησιά Ροζάριο</text>
<path d="M12 0 C12 -1 10 -1.6 8 -1.6 L4.4 -1.9 L-2.8 -11.6 L-5.8 -11.6 L-2.6 -1.9 L-8.8 -1.6 L-11 -3.9 L-12.4 -3.9 L-11.2 0 L-12.4 3.9 L-11 3.9 L-8.8 1.6 L-2.6 1.9 L-5.8 11.6 L-2.8 11.6 L4.4 1.9 L8 1.6 C10 1.6 12 1 12 0Z" fill="#0d0d0d" transform="translate(679.7 46.8)"/>
<path d="M694.6 47 L712.9 47" fill="none" stroke="#1d9452" stroke-width="2.3" stroke-dasharray="2.4 2.9"/>
<text x="716.1" y="50.0" font-size="8.5" font-weight="700" stroke="#1a1a1a" stroke-width="0.55" stroke-linejoin="round" textLength="21.3" lengthAdjust="spacingAndGlyphs" fill="#1a1a1a">Πτήση</text>
<circle cx="670.9" cy="67.4" r="5.9" fill="#fff" stroke="#cb202c" stroke-width="2.9"/><circle cx="670.9" cy="67.4" r="2.6" fill="#1a1a1a"/>
<text x="683.2" y="70.5" font-size="8.5" font-weight="700" stroke="#1a1a1a" stroke-width="0.55" stroke-linejoin="round" textLength="55.9" lengthAdjust="spacingAndGlyphs" fill="#1a1a1a">Διανυκτέρευση</text>
<path d="M662.7 88.75 L697 88.75" stroke="#cb202c" stroke-width="2.1"/>
<circle cx="698.5" cy="88.8" r="6.4" fill="#cb202c"/><circle cx="698.5" cy="88.8" r="3.0" fill="#1a1a1a"/>
<text x="711.3" y="91.7" font-size="8.5" font-weight="700" stroke="#1a1a1a" stroke-width="0.55" stroke-linejoin="round" textLength="27.8" lengthAdjust="spacingAndGlyphs" fill="#1a1a1a">Οδικώς</text>
<path d="M662.7 109.7 L697 109.7" stroke="#f2ab3c" stroke-width="2.1"/>
<circle cx="698.5" cy="109.7" r="6.4" fill="#f2ab3c"/><circle cx="698.5" cy="109.7" r="3.0" fill="#1a1a1a"/>
<text x="711.3" y="112.6" font-size="8.5" font-weight="700" stroke="#1a1a1a" stroke-width="0.55" stroke-linejoin="round" textLength="31.6" lengthAdjust="spacingAndGlyphs" fill="#1a1a1a">Εκδρομή</text>
<g stroke="#3c3c3c" stroke-width="0.6" fill="#fff"><rect x="139" y="33.8" width="50.3" height="11"/><path d="M139 35.9 H189.3 M139 44 H189.3" fill="none"/><path d="M140.6 36.8 V43.6" stroke-width="1.3" stroke="#4a4a4a"/><path d="M143.4 36.8 V43.6" stroke-width="1.3" stroke="#4a4a4a"/><path d="M146.3 36.8 V43.6" stroke-width="1.3" stroke="#4a4a4a"/><path d="M149.1 36.8 V43.6" stroke-width="1.3" stroke="#4a4a4a"/><path d="M152.0 36.8 V43.6" stroke-width="1.3" stroke="#4a4a4a"/><path d="M154.8 36.8 V43.6" stroke-width="1.3" stroke="#4a4a4a"/><path d="M173.6 36.8 V43.6" stroke-width="1.3" stroke="#4a4a4a"/><path d="M176.4 36.8 V43.6" stroke-width="1.3" stroke="#4a4a4a"/><path d="M179.3 36.8 V43.6" stroke-width="1.3" stroke="#4a4a4a"/><path d="M182.1 36.8 V43.6" stroke-width="1.3" stroke="#4a4a4a"/><path d="M185.0 36.8 V43.6" stroke-width="1.3" stroke="#4a4a4a"/><path d="M187.8 36.8 V43.6" stroke-width="1.3" stroke="#4a4a4a"/><path d="M139.3 40.6 H156 M172.4 40.6 H189" stroke="#fff" stroke-width="0.7"/><rect x="156.2" y="32.4" width="15.8" height="12.4"/><path d="M156.2 34.4 H172 M156.2 35.6 H172" fill="none"/><path d="M158.2 36.3 V44.6" stroke-width="1.1" stroke="#4a4a4a"/><path d="M160.5 36.3 V44.6" stroke-width="1.1" stroke="#4a4a4a"/><path d="M162.9 36.3 V44.6" stroke-width="1.1" stroke="#4a4a4a"/><path d="M165.2 36.3 V44.6" stroke-width="1.1" stroke="#4a4a4a"/><path d="M167.6 36.3 V44.6" stroke-width="1.1" stroke="#4a4a4a"/><path d="M169.9 36.3 V44.6" stroke-width="1.1" stroke="#4a4a4a"/><rect x="157.7" y="26.4" width="12.8" height="6"/><path d="M158.9 27.6 V31.6" stroke-width="0.9" stroke="#555"/><path d="M160.7 27.6 V31.6" stroke-width="0.9" stroke="#555"/><path d="M162.4 27.6 V31.6" stroke-width="0.9" stroke="#555"/><path d="M164.2 27.6 V31.6" stroke-width="0.9" stroke="#555"/><path d="M165.9 27.6 V31.6" stroke-width="0.9" stroke="#555"/><path d="M167.7 27.6 V31.6" stroke-width="0.9" stroke="#555"/><path d="M169.4 27.6 V31.6" stroke-width="0.9" stroke="#555"/><path d="M159.4 26.4 C159.4 21.6 161.8 18.8 164.1 18.8 C166.4 18.8 168.8 21.6 168.8 26.4Z" fill="#777"/><path d="M160 24.4 H168.2 M160.6 22.4 H167.6" stroke="#ddd" stroke-width="0.5"/><path d="M162.7 19.4 L164.1 15.7 L165.5 19.4Z" fill="#555"/></g><g><path d="M114.4 79 C114.4 76 115.6 74.4 119 73.6 L126 72.6 L150 72.4 C156 72.5 160.6 73 161.8 74.6 C162.7 76 162.7 78.5 162.3 79.6 C162 80.4 161 80.7 159 80.7 L117 80.7 C115 80.7 114.4 80.2 114.4 79Z" fill="#de2a3b"/><path d="M114.6 79 C120 78 128 78 134 78.5 L162.3 78 L162.3 79 C162 80.3 161 80.6 159 80.6 L117 80.6 C115.2 80.6 114.7 80 114.6 79Z" fill="#c21f30"/><path d="M114.8 76.8 L118.6 76 L118.6 77.6 L114.8 78.2Z" fill="#f6b9b9"/><path d="M125.6 72.5 C127.6 69.6 130.6 68 134.6 67.9 L142.5 67.9 C145.6 68 147.7 69.8 148.9 72.5Z" fill="#aedbd3" stroke="#efefef" stroke-width="0.9"/><path d="M136.5 68 V72.4" stroke="#efefef" stroke-width="0.7"/><circle cx="125.1" cy="81" r="3.4" fill="#2b2b2b"/><circle cx="125.1" cy="81" r="1.5" fill="#a9b2b8"/><circle cx="154.9" cy="81" r="3.4" fill="#2b2b2b"/><circle cx="154.9" cy="81" r="1.5" fill="#a9b2b8"/></g><g><path d="M92.5 318 C92 312 91 306 89.5 301.5" stroke="#8a7a5a" stroke-width="1.6" fill="none"/><path d="M97 314 C97.5 308 98 303 99 299" stroke="#8a7a5a" stroke-width="1.5" fill="none"/><g fill="none" stroke-linecap="round" transform="translate(94 300) scale(0.93) translate(-94 -300)"><path d="M89.5 300 C85 295.5 79 296.5 74.6 302.5" stroke="#2f5f22" stroke-width="4.6"/><path d="M89.5 300 C84 300.5 80 305 78.4 312.5" stroke="#4c8a30" stroke-width="4.6"/><path d="M89.5 300 C86.5 304 85.5 309 86.6 313.6" stroke="#2f5f22" stroke-width="4.2"/><path d="M89.5 300 C85.6 292 80 290 75.8 293.4" stroke="#4c8a30" stroke-width="4.0"/><path d="M89.5 300 C90.4 293 88 288.4 83.6 287" stroke="#2f5f22" stroke-width="4.0"/><path d="M89.5 300 C81 297 77 299 75 305" stroke="#6aa63c" stroke-width="2.2"/><path d="M89.5 300 C92 303 92.6 307 92 311" stroke="#4c8a30" stroke-width="3.6"/><path d="M99 297.5 C96 291 92 287 87.4 286" stroke="#2f5f22" stroke-width="4.2"/><path d="M99 297.5 C100 291 102 287 106.4 285.4" stroke="#4c8a30" stroke-width="4.2"/><path d="M99 297.5 C104 291.6 108 290.6 112.8 293" stroke="#2f5f22" stroke-width="4.4"/><path d="M99 297.5 C105 296.6 110.4 300 113.6 305.6" stroke="#4c8a30" stroke-width="4.6"/><path d="M99 297.5 C103.4 301.6 105.4 306 105.6 311.4" stroke="#2f5f22" stroke-width="4.4"/><path d="M99 297.5 C98 291 97 288 95.4 285.4" stroke="#4c8a30" stroke-width="3.8"/><path d="M99 297.5 C95 296 92.6 296.4 90.4 298.4" stroke="#2f5f22" stroke-width="4.0"/><path d="M99 297.5 C106 294 110 295.4 113 298.6" stroke="#6aa63c" stroke-width="2.2"/><path d="M99 297.5 C101.6 301 102 304 101.6 307" stroke="#4c8a30" stroke-width="3.6"/></g><path d="M88.5 332 V340 M117 332 V340" stroke="#7d7268" stroke-width="1.8" fill="none"/><rect x="89.5" y="319" width="27.2" height="12" fill="#8d8379"/><rect x="92" y="322.6" width="5.6" height="4.8" fill="#4b382a"/><rect x="108.2" y="322.6" width="5.6" height="4.8" fill="#4b382a"/><rect x="100" y="322.2" width="6" height="8.4" fill="#4b382a"/><rect x="82.9" y="330.4" width="39.8" height="2" fill="#7d7268"/><path d="M102.8 303.2 L122.8 319.6 L82.8 319.6Z" fill="#cdbba8"/><path d="M102.8 303.2 L106 305.8 L99.6 305.8Z" fill="#b7a38f"/><path d="M82.8 319.6 H122.8" stroke="#b09c88" stroke-width="0.8"/></g><g><defs><clipPath id="tp"><path d="M278.9 313.6 L292.6 344.6 C285 346.6 273 346.6 266.2 344.6Z"/></clipPath></defs><g clip-path="url(#tp)"><rect x="264" y="313.0" width="31" height="7.3" fill="#c9203f"/><rect x="264" y="320.3" width="31" height="6.0" fill="#fbefd9"/><rect x="264" y="326.3" width="31" height="2.5" fill="#4f93b8"/><rect x="264" y="328.8" width="31" height="4.2" fill="#c9203f"/><rect x="264" y="333.0" width="31" height="6.2" fill="#fbefd9"/><rect x="264" y="339.2" width="31" height="1.2" fill="#7b3b5a"/><rect x="264" y="340.4" width="31" height="6.6" fill="#e2b334"/></g><path d="M279.2 336.8 L284.2 346 L274.6 346Z" fill="#6c1a1c"/><path d="M247.2 332.2 L255.8 332.2 L253.6 341.2 L255 345.8 L248 345.8 L249.4 341.2Z" fill="#cf4a2c"/><rect x="247.1" y="331.6" width="8.8" height="2" rx="0.8" fill="#4f9dc2"/><path d="M248 336.2 H255 M248.8 339.2 H254.2 M248.4 342.6 H254.8" stroke="#e9a23a" stroke-width="1.1"/><path d="M247.9 344.8 H255.1" stroke="#8a2f22" stroke-width="1.2"/></g><g><path d="M395.2 457 V433 L397.6 429.2 L400 433 V457Z" fill="#f5c491"/><path d="M417.7 457 V433 L420.1 429.2 L422.5 433 V457Z" fill="#f5c491"/><path d="M397.6 434 V437 M397.6 441 V444 M420.1 434 V437 M420.1 441 V444" stroke="#c9773f" stroke-width="1"/><path d="M400 457 V446 C400 444 404 442 405.5 441.5 C406.5 439.5 408 438.3 408.8 437.6 C409.7 438.3 411.2 439.5 412.2 441.5 C413.7 442 417.7 444 417.7 446 V457Z" fill="#dc5a3c"/><path d="M403 457 V452.6 C403 451 405 451 405 452.6 V457Z M407.4 457 V451.8 C407.4 449.8 410.2 449.8 410.2 451.8 V457Z M412.6 457 V452.6 C412.6 451 414.6 451 414.6 452.6 V457Z" fill="#8f2e22"/><rect x="394.8" y="456.2" width="28.2" height="1.4" fill="#8a8fa0"/><path d="M437.5 413.6 V405.4" stroke="#e8a98a" stroke-width="0.9"/><path d="M434 417 C434 414.4 436 413.4 437.6 413.4 C439.4 413.4 441.4 414.4 441.6 417 C442.6 421 441.2 424 441.6 428 C442.2 432 441 436 441.6 440 C442 444 441.4 446 441.6 448.4 L433.6 448.4 C433.4 445 434.6 442 434 438 C433.2 434 434.8 430 434 426 C433.4 422 434.4 420 434 417Z" fill="#2f6ea3"/><path d="M434.2 420 L441.4 424.5 M434.2 427.5 L441.6 432 M434 435 L441.6 439.6 M434 442.4 L441.4 446.6" stroke="#1f4f7d" stroke-width="1.5"/><rect x="432.2" y="448.2" width="11.6" height="9.3" fill="#2b639a"/><path d="M432.2 451 H443.8 M432.2 453.6 H443.8" stroke="#5b8fc0" stroke-width="0.6"/></g><g transform="translate(18.4 379.9) scale(0.913)" fill="#151515"><path d="M6 0.2 L13 3.8 M6.2 3.4 L13 3.8" stroke="#151515" stroke-width="1.1" fill="none"/><path d="M12.2 2.5 L24.2 2.5 L29 7.3 L12.8 7.3Z"/><path d="M0 11 L4 7.2 L35.6 7 L32.2 13.4 L1.2 13.4 Z"/><path d="M15.2 4.2 H23.6 V5.3 H15.2Z M18 4.2 V5.3 M20.8 4.2 V5.3" fill="#fff"/></g><g transform="translate(635.3 259.3) scale(1.000)" fill="#151515"><path d="M6 0.2 L13 3.8 M6.2 3.4 L13 3.8" stroke="#151515" stroke-width="1.1" fill="none"/><path d="M12.2 2.5 L24.2 2.5 L29 7.3 L12.8 7.3Z"/><path d="M0 11 L4 7.2 L35.6 7 L32.2 13.4 L1.2 13.4 Z"/><path d="M15.2 4.2 H23.6 V5.3 H15.2Z M18 4.2 V5.3 M20.8 4.2 V5.3" fill="#fff"/></g><g fill="none" stroke="#111" stroke-width="2.1" stroke-linecap="round" stroke-linejoin="round"><path d="M593 218.3 L606.5 218.3 C610 218.3 611.9 220.6 611.9 223.8 C611.9 227.6 609.5 230.2 606 230.2 C603.2 230.2 602 228.2 599.8 226.6 C597.6 228.2 596.6 230.2 593.6 230.2 C590.2 230.2 587.9 227.6 587.9 223.8 C587.9 220.6 589.6 218.3 593 218.3Z"/><path d="M616.1 206.2 V208.8"/><path d="M616.1 211.8 V227 C616.1 231.5 613.5 234.3 609 234.3 L600.5 234.6"/><circle cx="599.6" cy="234.6" r="1.6" fill="#111"/></g><g fill="none" stroke="#111" stroke-linecap="round" stroke-linejoin="round"><path d="M632.6 214.6 C637 216.4 647 216.4 651 214.6" stroke-width="3.2"/><path d="M642.4 214 C643.3 209 643.2 204 642.3 200 C641.5 196 640.6 191 639.9 188 L639.2 184.8" stroke-width="2.5"/><path d="M641 189.4 L642.3 185.4" stroke-width="1.9"/><path d="M644.4 212.4 C644.8 207 645.8 200 646.3 196 C646.6 193 646.4 190 646.1 187.8" stroke-width="2.4"/><path d="M647 194 L648.7 189.4" stroke-width="2"/><path d="M641.2 212 C640.8 209 639.6 205 637.9 202.5 C637.3 201 637.1 199.6 637.1 198.6" stroke-width="2.3"/><path d="M638 213.6 C637 211 635.2 208 633.1 204.3" stroke-width="2.4"/><path d="M634 213.8 C632.6 212 631.2 210 630.3 207.8" stroke-width="2.1"/><path d="M646.8 213 C648 210 649.6 206 651.1 202.5 C651.6 201 651.8 199.4 651.9 198.3" stroke-width="2.8"/><path d="M650 213.8 C651.6 212.8 653.2 211.6 654.3 210.6" stroke-width="2"/></g>
</svg></body></html>
